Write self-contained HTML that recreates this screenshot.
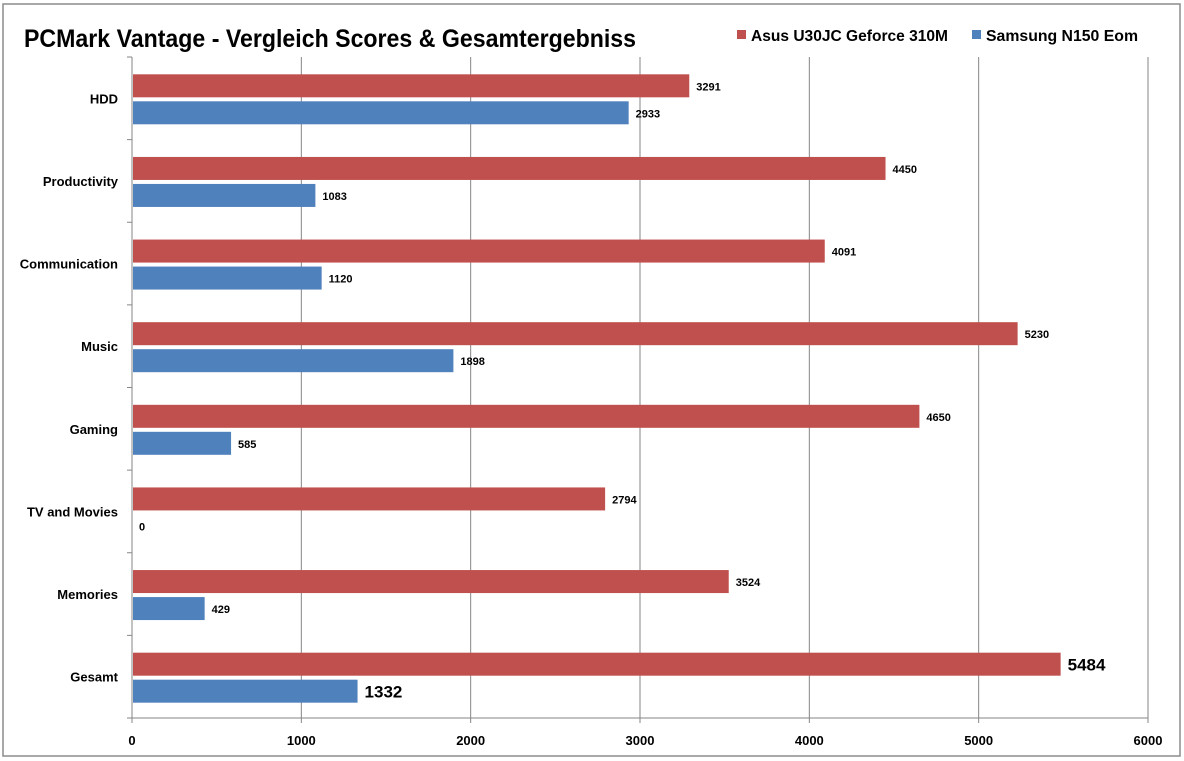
<!DOCTYPE html>
<html><head><meta charset="utf-8"><style>
body{margin:0;background:#fff}
svg{display:block;font-family:"Liberation Sans",sans-serif}
</style></head><body>
<svg id="c" width="1184" height="761">
<rect x="3" y="4" width="1177" height="752" fill="#fff" stroke="#8c8c8c" stroke-width="1.5"/>
<text x="24" y="47" font-size="25" font-weight="bold" textLength="612" lengthAdjust="spacingAndGlyphs" fill="#000">PCMark Vantage - Vergleich Scores &amp; Gesamtergebniss</text>
<g>
<g><rect x="737" y="30" width="9" height="9" fill="#c0504d"/><text x="751" y="41" font-size="16" font-weight="bold" textLength="197" lengthAdjust="spacingAndGlyphs">Asus U30JC Geforce 310M</text></g>
<g><rect x="972" y="30" width="9" height="9" fill="#4f81bd"/><text x="986" y="41" font-size="16" font-weight="bold" textLength="152" lengthAdjust="spacingAndGlyphs">Samsung N150 Eom</text></g>
</g>
<g id="grid"></g><g id="bars"></g><g id="axes"></g>
</svg>
<script>
const categories=["HDD","Productivity","Communication","Music","Gaming","TV and Movies","Memories","Gesamt"];
const asus=[3291,4450,4091,5230,4650,2794,3524,5484];
const samsung=[2933,1083,1120,1898,585,0,429,1332];
const ticks=[0,1000,2000,3000,4000,5000,6000];
const NS="http://www.w3.org/2000/svg";
const X0=132,X1=1148,Y0=57,Y1=718,MAX=6000;
const x=v=>X0+(v/MAX)*(X1-X0);
const rowH=(Y1-Y0)/categories.length;
const yc=i=>Y0+rowH*(i+0.5);
function mk(t,a,p){const e=document.createElementNS(NS,t);for(const k in a)e.setAttribute(k,a[k]);p.appendChild(e);return e;}
const grid=document.getElementById('grid'),bars=document.getElementById('bars'),axes=document.getElementById('axes');
ticks.forEach(t=>{
 if(t>0){const l=mk('line',{x1:x(t),x2:x(t),y1:Y0,y2:Y1,stroke:'#868686','stroke-width':1},grid);
 
 }
 const tk=mk('line',{x1:x(t),x2:x(t),y1:Y1,y2:Y1+5,stroke:'#868686'},axes);
 
 
 const tx=mk('text',{x:x(t),y:Y1+27,'text-anchor':'middle','font-size':13,'font-weight':'bold'},axes);
 tx.textContent=t;
 
 
});
const ax=mk('line',{x1:X0,x2:X0,y1:Y0,y2:Y1,stroke:'#868686'},axes);


const bx=mk('line',{x1:X0,x2:X1,y1:Y1,y2:Y1,stroke:'#868686'},axes);


for(let i=0;i<=categories.length;i++){
 const t=mk('line',{x1:X0-5,x2:X0,y1:Y0+rowH*i,y2:Y0+rowH*i,stroke:'#868686'},axes);
 
 
}
categories.forEach((c,i)=>{
 const big=i===categories.length-1;
 const lb=mk('text',{x:118,y:yc(i)+5,'text-anchor':'end','font-size':13,'font-weight':'bold'},axes);
 lb.textContent=c;
 
 
 [[asus,'#c0504d',-24,'asus'],[samsung,'#4f81bd',3,'samsung']].forEach(([arr,col,off,nm])=>{
  const v=arr[i];
  const r=mk('rect',{x:X0+1,y:yc(i)+off,width:Math.max(0,x(v)-X0-1),height:23,fill:col},bars);
  
  
  const t=mk('text',{x:x(v)+7,y:yc(i)+off+(big?18:16),'font-size':big?17:11,'font-weight':'bold'},bars);
  t.textContent=v;
  
  
 });
});
</script>
</body></html>
